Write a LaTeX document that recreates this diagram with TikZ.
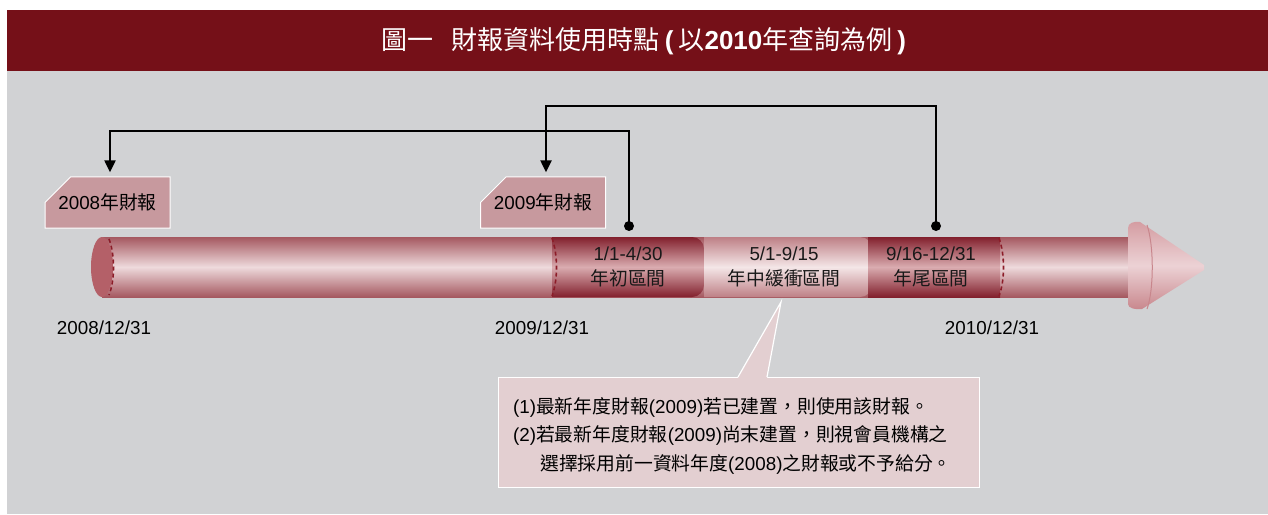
\documentclass[tikz,border=0pt]{standalone}
\usepackage{fontspec}
\setmainfont{Liberation Sans}
\newfontfamily\cjk{Noto Sans CJK TC}
\usetikzlibrary{arrows.meta,shapes.misc,calc}

\definecolor{banner}{RGB}{117,16,24}
\definecolor{panel}{RGB}{209,210,212}
\definecolor{tagfill}{RGB}{199,153,158}
\definecolor{notefill}{RGB}{227,207,209}
\definecolor{tubeedge}{RGB}{165,88,96}
\definecolor{tubeglow}{RGB}{238,218,220}
\definecolor{segedge}{RGB}{130,32,45}
\definecolor{segglow}{RGB}{218,172,176}
\definecolor{midedge}{RGB}{190,128,134}
\definecolor{midglow}{RGB}{244,230,231}
\definecolor{capfill}{RGB}{180,96,104}
\definecolor{cutline}{RGB}{140,28,40}
\definecolor{headtop}{RGB}{212,156,161}
\definecolor{headglow}{RGB}{236,210,213}
\definecolor{headbot}{RGB}{200,134,140}

\tikzset{
  bigfont/.style={font=\fontsize{18.8}{20}\selectfont},
  tag/.style={chamfered rectangle, chamfered rectangle corners=north west,
    chamfered rectangle xsep=20pt, chamfered rectangle ysep=17pt,
    minimum width=125pt, minimum height=45pt, inner sep=0pt,
    fill=tagfill, draw=white, line width=1pt, bigfont},
  dot/.style={circle, fill=black, inner sep=0pt, minimum size=10pt},
  link/.style={line width=2.3pt, draw=black, line join=miter,
    -{Triangle[width=11pt,length=12pt]}, shorten >=4pt},
  cutedge/.style={draw=cutline, line width=1.6pt, dash pattern=on 4pt off 3pt},
  span/.style={align=center, font=\fontsize{18.8}{25}\selectfont, text=black!90},
  datelabel/.style={bigfont, text=black},
  notebox/.style={fill=notefill, draw=white, line width=1.2pt, inner sep=0pt,
    minimum width=481pt, minimum height=110pt}
}

\begin{document}
\begin{tikzpicture}[x=1pt,y=-1pt]
\useasboundingbox (0,0) rectangle (1268,514);
\fill[white] (0,0) rectangle (1268,514);
\fill[panel] (7,71) rectangle (1268,514);

% title banner
\node[fill=banner, minimum width=1261pt, minimum height=61pt, anchor=north west,
      inner sep=0pt] (banner) at (7,10) {};
\node[text=white, font=\fontsize{26}{30}\selectfont] (title) at (644,41)
  {{\cjk 圖一}\hspace{18pt}{\cjk 財報資料使用時點}\hspace{5pt}\textbf{(}\hspace{5pt}{\cjk 以}\textbf{2010}{\cjk 年查詢為例}\hspace{5pt}\textbf{)}};

% timeline tube
\shade[top color=tubeedge, bottom color=tubeedge, middle color=tubeglow]
  (102,237) rectangle (1132,297);
\shade[top color=segedge, bottom color=segedge, middle color=segglow]
  (552,237) -- (690,237) [rounded corners=12pt] -- (704,237) -- (704,297) [sharp corners] -- (552,297) -- cycle;
\shade[top color=midedge, bottom color=midedge, middle color=midglow]
  (704,237) -- (860,237) [rounded corners=12pt] -- (872,237) -- (872,297) [sharp corners] -- (704,297) -- cycle;
\shade[top color=segedge, bottom color=segedge, middle color=segglow]
  (868,237) rectangle (1000,297);
\draw[cutedge] (552,238) .. controls (558,255) and (558,280) .. (552,296);
\draw[cutedge] (999,238) .. controls (1005,255) and (1005,280) .. (999,296);

% left end of the tube
\fill[capfill] (102,267) ellipse [x radius=11, y radius=30];
\draw[cutedge] (109,239) .. controls (115,255) and (115,280) .. (109,295);

% arrow head
\shade[top color=headtop, bottom color=headbot, middle color=headglow]
  (1128,237) -- (1128,228) .. controls (1128,223) and (1134,221) .. (1140,222)
  -- (1204,265) -- (1204,270) -- (1142,309)
  .. controls (1135,310) and (1128,308) .. (1128,304) -- (1128,297) -- cycle;
\draw[draw=headbot, line width=1pt] (1147,225) .. controls (1154,245) and (1154,290) .. (1147,309);

% period labels on the tube
\node[span] (early) at (628,267) {1/1-4/30\\{\cjk 年初區間}};
\node[span] (buffer) at (784,267) {5/1-9/15\\{\cjk 年中緩衝區間}};
\node[span] (late) at (931,267) {9/16-12/31\\{\cjk 年尾區間}};

% dates below the tube
\node[datelabel] (date08) at (104,328) {2008/12/31};
\node[datelabel] (date09) at (542,328) {2009/12/31};
\node[datelabel] (date10) at (992,328) {2010/12/31};

% report tags
\node[tag] (lab08) at (107.5,202.5) {2008{\cjk 年財報}};
\node[tag] (lab09) at (543,202.5) {2009{\cjk 年財報}};

% connectors from query windows to the report used
\node[dot] (d1) at (629,226) {};
\node[dot] (d2) at (936,226) {};
\coordinate (t1) at (110,131);
\coordinate (t2) at (546,106);
\draw[link] (d2.center) |- (t2) -- (t2 |- lab09.north);
\draw[link] (d1.center) |- (t1) -- (t1 |- lab08.north);

% note with pointer
\node[notebox, anchor=north west] (note) at (498,377) {};
\coordinate (ptip) at (781,302);
\fill[notefill] ($(note.north west)+(240,0.8)$) -- (ptip) -- ($(note.north west)+(269,0.8)$) -- cycle;
\draw[white, line width=1.2pt] ($(note.north west)+(240,0)$) -- (ptip) -- ($(note.north west)+(269,0)$);
\node[anchor=north west, align=left, font=\fontsize{18.8}{28.5}\selectfont, inner sep=0pt]
  (notetext) at (513,397)
  {(1){\cjk 最新年度財報}(2009){\cjk 若已建置，則使用該財報。}\\
   (2){\cjk 若最新年度財報}(2009){\cjk 尚末建置，則視會員機構之}\\
   \hspace*{27pt}{\cjk 選擇採用前一資料年度}(2008){\cjk 之財報或不予給分。}};
\end{tikzpicture}
\end{document}
